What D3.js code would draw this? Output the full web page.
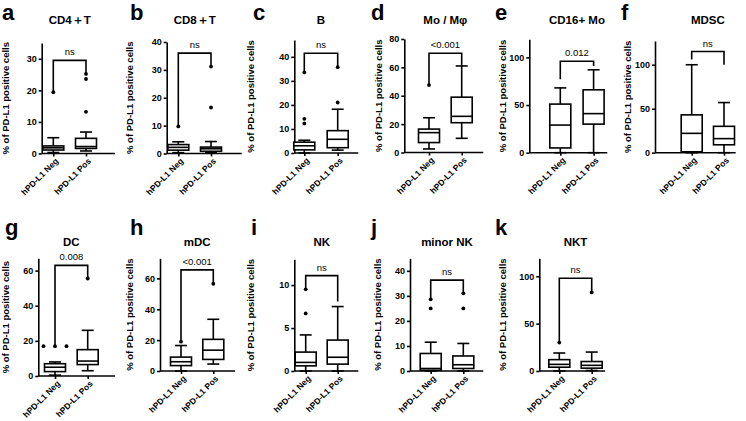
<!DOCTYPE html>
<html>
<head>
<meta charset="utf-8">
<script src="https://cdn.jsdelivr.net/npm/d3@7"></script>
<style>
  body { margin: 0; background: #fff; }
  svg { font-family: "Liberation Sans", Arial, sans-serif; }
</style>
</head>
<body>
<div id="chart"></div>
<script>
// panel data
const letters = ["a", "b", "c", "d", "e", "f", "g", "h", "i", "j", "k"];
const titles = ["CD4＋T", "CD8＋T", "B", "Mo / Mφ", "CD16+ Mo", "MDSC", "DC", "mDC", "NK", "minor NK", "NKT"];
const groups = ["hPD-L1 Neg", "hPD-L1 Pos"];
const yTicks = [
    [0, 10, 20, 30], [0, 10, 20, 30, 40], [0, 10, 20, 30, 40], [0, 20, 40, 60, 80],
    [0, 50, 100], [0, 50, 100], [0, 20, 40, 60], [0, 20, 40, 60],
    [0, 5, 10], [0, 10, 20, 30, 40], [0, 50, 100]
];
const yMax = [35, 40, 47, 80, 119, 127, 67, 73, 13, 45, 119];
// [min whisker, Q1, median, Q3, max whisker]
const negStats = [
    [0.3, 1.1, 1.8, 2.4, 5], [0.3, 1.2, 2.2, 3.2, 4.2], [0, 1.3, 3, 4.5, 5.3], [2.5, 7, 14, 16.5, 24.5],
    [0, 5, 29, 51, 68], [0, 1, 22, 43, 100], [0.5, 2.5, 5, 7, 8], [0, 3.5, 6, 9, 16.5],
    [0, 0.6, 1.0, 2.2, 4.2], [0, 0.3, 1, 7, 11.5], [0, 4, 7, 12, 19]
];
const posStats = [
    [0.8, 1.6, 2.2, 4.8, 6.8], [0.3, 0.8, 1.7, 2.3, 4.3], [1.2, 2.2, 5.7, 9.3, 18.2], [10, 21, 25.5, 39, 61],
    [0, 30, 41, 66, 87], [0, 9, 16, 30, 57], [3, 6.5, 8.5, 15, 26], [4.5, 7.5, 13.5, 20.5, 33.5],
    [0, 0.8, 1.6, 3.6, 7.5], [0, 1, 2.5, 6, 11], [0.5, 3, 6, 10, 20]
];
const negOutliers = [[19.4], [9.7], [33.5, 14.2, 12.3], [47.5], [], [], [17, 17, 17], [19], [9.5, 6.7], [28.6, 25], [30]];
const posOutliers = [[25.2, 23.6, 13.2], [31.2, 16.5], [35.7, 21], [], [], [], [55.5], [56.5], [], [31, 25], [83]];
const pLabels = ["ns", "ns", "ns", "<0.001", "0.012", "ns", "0.008", "<0.001", "ns", "ns", "ns"];
const bracketY = [29.5, 36, 41.5, 70, 96, 115, 63, 65.5, 11.1, 36.3, 98];
const bracketArms = [
    [19.4, 25.2], [9.7, 31.2], [33.5, 35.7], [47.5, 61], [77, 91], [106, 100],
    [17, 55.5], [19, 56.5], [9.5, 8.1], [28.6, 31], [30, 83]
];

// layout of each panel (pixels)
const layout = [
    { ax: 41.7, neg: 53.3, pos: 86, end: 115, top: 43, zero: 153.5, labX: 6, lx: 2, ly: 20, ty: 24 },
    { ax: 166.7, neg: 178.3, pos: 211, end: 241.7, top: 42, zero: 153.5, labX: 130, lx: 130, ly: 20, ty: 24 },
    { ax: 294.3, neg: 304.3, pos: 337.7, end: 358.3, top: 40, zero: 153, labX: 251, lx: 253, ly: 20, ty: 24 },
    { ax: 404.3, neg: 429, pos: 461.7, end: 483.3, top: 39, zero: 152.5, labX: 378.5, lx: 371, ly: 20, ty: 24 },
    { ax: 529.3, neg: 560.3, pos: 593.6, end: 607.3, top: 39.3, zero: 152.7, labX: 503, lx: 495, ly: 20, ty: 24 },
    { ax: 655, neg: 691.7, pos: 724, end: 735.7, top: 41, zero: 152.7, labX: 628, lx: 621, ly: 20, ty: 24 },
    { ax: 38.3, neg: 55, pos: 87.7, end: 115, top: 258.3, zero: 376, labX: 6, lx: 5, ly: 235, ty: 246 },
    { ax: 160, neg: 181, pos: 213.3, end: 235, top: 258.3, zero: 371, labX: 130, lx: 130, ly: 235, ty: 246 },
    { ax: 294.3, neg: 305.7, pos: 337.7, end: 358.3, top: 259.3, zero: 371, labX: 251, lx: 251, ly: 235, ty: 246 },
    { ax: 410, neg: 430.7, pos: 463.3, end: 483.3, top: 258.3, zero: 371, labX: 378, lx: 371, ly: 235, ty: 246 },
    { ax: 539.3, neg: 559.3, pos: 591.7, end: 605, top: 258.3, zero: 371, labX: 503, lx: 495, ly: 235, ty: 246 }
];

const W = 746, H = 421;
const boxW = 21, capW = 12, lw = 1.6;
const FONT = "Liberation Sans, Arial, sans-serif";

const svg = d3.select("#chart").append("svg")
    .attr("width", W)
    .attr("height", H);

function drawBox(g, cx, y, s, outliers) {
    const [lo, q1, med, q3, hi] = s;
    // whiskers
    g.append("line").attr("x1", cx).attr("x2", cx).attr("y1", y(hi)).attr("y2", y(q3));
    g.append("line").attr("x1", cx).attr("x2", cx).attr("y1", y(q1)).attr("y2", y(lo));
    g.append("line").attr("x1", cx - capW / 2).attr("x2", cx + capW / 2).attr("y1", y(hi)).attr("y2", y(hi));
    g.append("line").attr("x1", cx - capW / 2).attr("x2", cx + capW / 2).attr("y1", y(lo)).attr("y2", y(lo));
    g.append("rect")
        .attr("x", cx - boxW / 2)
        .attr("y", y(q3))
        .attr("width", boxW)
        .attr("height", Math.max(0.5, y(q1) - y(q3)))
        .attr("fill", "#fff");
    g.append("line").attr("x1", cx - boxW / 2).attr("x2", cx + boxW / 2).attr("y1", y(med)).attr("y2", y(med));

    // equal outliers get spread sideways
    const counts = d3.rollup(outliers, v => v.length, d => d);
    const seen = new Map();
    outliers.forEach(v => {
        const n = counts.get(v);
        const k = seen.get(v) || 0;
        seen.set(v, k + 1);
        const dx = (k - (n - 1) / 2) * 11.5;
        g.append("circle")
            .attr("cx", cx + dx)
            .attr("cy", y(v))
            .attr("r", 1.9)
            .attr("fill", "#000")
            .attr("stroke", "none");
    });
}

letters.forEach((letter, i) => {
    const L = layout[i];
    const y = d3.scaleLinear().domain([0, yMax[i]]).range([L.zero, L.top]);
    const x = d3.scalePoint().domain(groups).range([L.neg, L.pos]);

    const panel = svg.append("g");

    panel.append("text")
        .attr("x", L.lx)
        .attr("y", L.ly)
        .style("font-size", "22px")
        .style("font-weight", "bold")
        .text(letter);

    panel.append("text")
        .attr("x", (L.neg + L.pos) / 2)
        .attr("y", L.ty)
        .attr("text-anchor", "middle")
        .style("font-size", "11.5px")
        .style("font-weight", "bold")
        .text(titles[i]);

    panel.append("text")
        .attr("transform", `translate(${L.labX},${(L.top + L.zero) / 2}) rotate(-90)`)
        .attr("text-anchor", "middle")
        .attr("dy", "0.35em")
        .style("font-size", "9.5px")
        .style("font-weight", "bold")
        .text("% of PD-L1 positive cells");

    // y axis
    const yAxis = panel.append("g")
        .attr("transform", `translate(${L.ax},0)`)
        .call(d3.axisLeft(y).tickValues(yTicks[i]).tickSize(3).tickSizeOuter(0).tickPadding(2));
    yAxis.select(".domain").attr("stroke-width", lw);
    yAxis.selectAll(".tick line").attr("stroke-width", lw);
    yAxis.selectAll(".tick text")
        .style("font-size", "9px")
        .style("font-weight", "bold")
        .style("font-family", FONT);

    // x axis
    const xAxis = panel.append("g")
        .attr("transform", `translate(0,${L.zero})`)
        .call(d3.axisBottom(x).tickSize(3).tickSizeOuter(0).tickPadding(0));
    xAxis.select(".domain").remove();
    xAxis.append("line")
        .attr("x1", L.ax)
        .attr("x2", L.end)
        .attr("stroke", "#000")
        .attr("stroke-width", lw);
    xAxis.selectAll(".tick line").attr("stroke-width", lw);
    xAxis.selectAll(".tick text")
        .attr("text-anchor", "end")
        .attr("transform", "translate(3,6) rotate(-45)")
        .attr("dy", "0.35em")
        .attr("y", 0)
        .style("font-size", "8.5px")
        .style("font-weight", "bold")
        .style("font-family", FONT);

    // boxes
    const boxes = panel.append("g")
        .attr("stroke", "#000")
        .attr("stroke-width", lw);
    drawBox(boxes, x(groups[0]), y, negStats[i], negOutliers[i]);
    drawBox(boxes, x(groups[1]), y, posStats[i], posOutliers[i]);

    // significance bracket
    const by = y(bracketY[i]);
    const [armL, armR] = bracketArms[i];
    panel.append("path")
        .attr("d", `M${x(groups[0])},${y(armL)}V${by}H${x(groups[1])}V${y(armR)}`)
        .attr("fill", "none")
        .attr("stroke", "#000")
        .attr("stroke-width", lw);
    panel.append("text")
        .attr("x", (x(groups[0]) + x(groups[1])) / 2)
        .attr("y", by - 5)
        .attr("text-anchor", "middle")
        .style("font-size", "9.5px")
        .text(pLabels[i]);
});
</script>
</body>
</html>
